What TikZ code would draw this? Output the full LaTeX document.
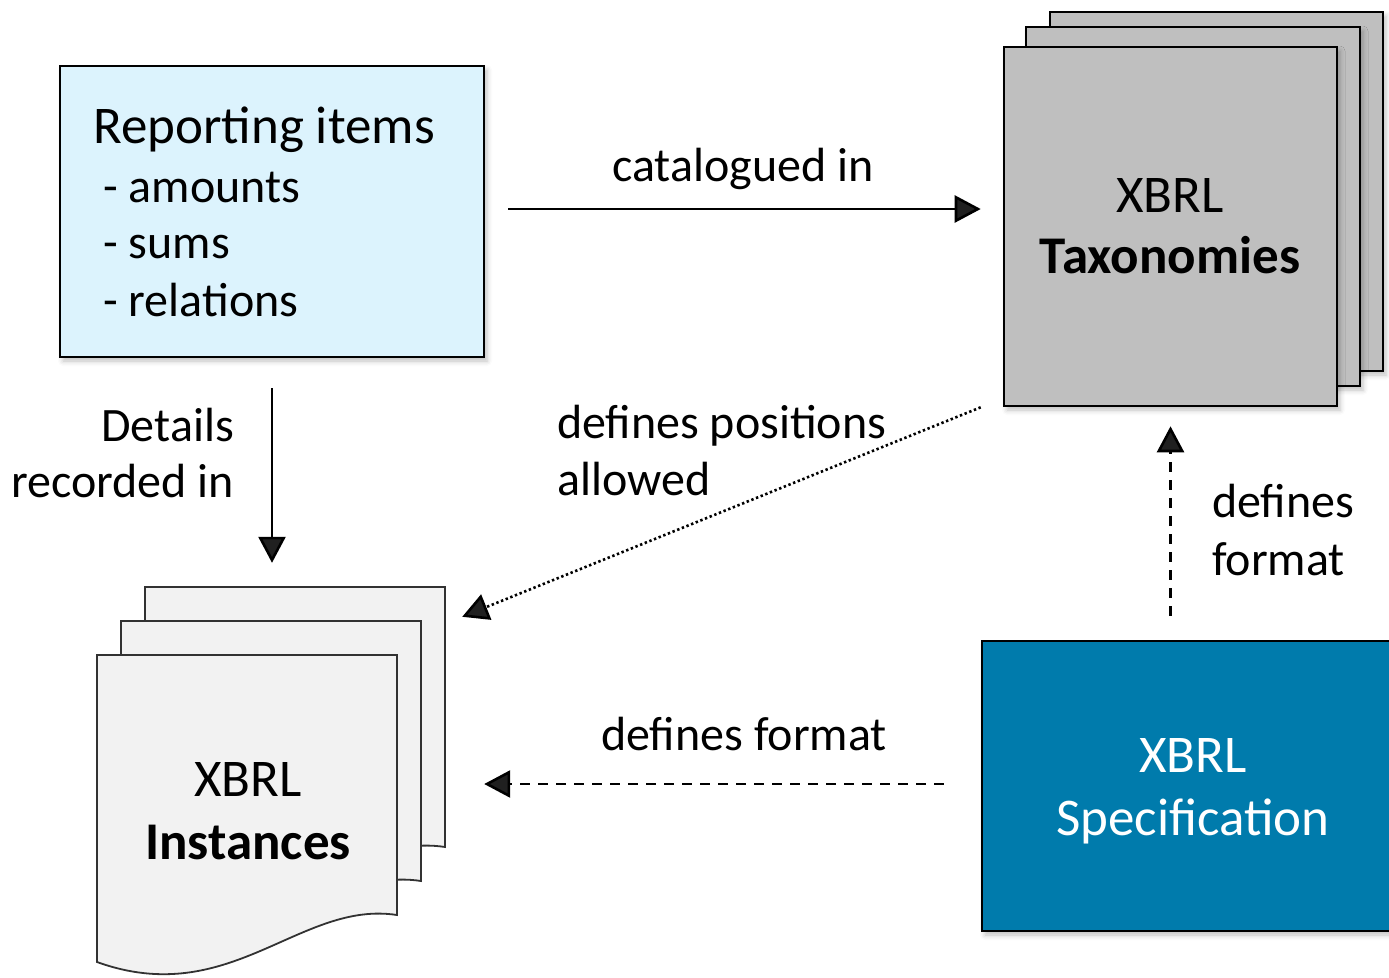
\documentclass[tikz,border=0pt]{standalone}
\usepackage{fontspec}
\setmainfont{Carlito}
\usetikzlibrary{arrows.meta,calc,shadows.blur}
\definecolor{repfill}{RGB}{220,243,253}
\definecolor{taxfill}{RGB}{191,191,191}
\definecolor{instfill}{RGB}{242,242,242}
\definecolor{instline}{RGB}{50,50,50}
\definecolor{specfill}{RGB}{0,123,172}
\tikzset{
  big/.style={font=\fontsize{53}{64}\selectfont, inner sep=0pt},
  lbl/.style={font=\fontsize{48}{58}\selectfont, inner sep=0pt},
  box/.style={draw=black, line width=2.6pt, inner sep=0pt},
  shad/.style={blur shadow={shadow xshift=3pt, shadow yshift=-4pt, shadow blur radius=5pt, shadow opacity=25}},
  docline/.style={draw=instline, line width=1.8pt, fill=instfill},
  arr/.style={line width=2.6pt, -{Triangle[length=26pt,width=27pt]}},
  dotline/.style={dash pattern=on 2.4pt off 2.6pt},
  dashline/.style={dash pattern=on 10pt off 8pt}
}
\begin{document}
\begin{tikzpicture}[x=1pt,y=-1pt]
\useasboundingbox (0,0) rectangle (1389,977);
\clip (0,0) rectangle (1389,977);

% Reporting items box
\node[box, fill=repfill, shad, minimum width=424pt, minimum height=291pt] (rep) at (272,211.5) {};
\node[big, anchor=base west] (rt1) at (93,143) {Reporting items};
\node[lbl, anchor=base west] (rt2) at (103,202) {- amounts};
\node[lbl, anchor=base west] (rt3) at (103,258) {- sums};
\node[lbl, anchor=base west] (rt4) at (103,316) {- relations};

% Taxonomies stack
\draw[box, fill=taxfill, shad] (1050,12) rectangle (1383,371);
\draw[box, fill=taxfill, shad] (1026,27) rectangle (1360,386);
\node[box, fill=taxfill, shad, minimum width=333pt, minimum height=359pt] (tax) at (1170.5,226.5) {};
\node[big, anchor=base] (tx1) at (1170,212) {XBRL};
\node[big, anchor=base] (tx2) at (1170,273) {\bfseries Taxonomies};

% Instances stack
\foreach \s in {2,1,0}{
  \draw[docline, shift={({97+24*\s},{655-34*\s})}]
    (0,0) -- (300,0) -- (300,260) .. controls (203,245) and (133,355) .. (0,307) -- cycle;
}
\node[minimum width=300pt, minimum height=310pt, inner sep=0pt] (inst) at (247,810) {};
\node[big, anchor=base] (ix1) at (248,796) {XBRL};
\node[big, anchor=base] (ix2) at (248,859) {\bfseries Instances};

% Specification box
\node[box, fill=specfill, shad, minimum width=422pt, minimum height=290pt] (spec) at (1193,786) {};
\node[big, anchor=base, text=white] (sx1) at (1193,772) {XBRL};
\node[big, anchor=base, text=white] (sx2) at (1193,835) {Specification};

% Connectors
\draw[arr] ([xshift=23pt,yshift=2.5pt]rep.east) -- ([xshift=-22pt,yshift=17.5pt]tax.west);
\node[lbl, anchor=base] (lcat) at (743,181) {catalogued in};

\draw[arr] ([yshift=-30pt]rep.south) -- ($(rep.south |- inst.north)+(0,-92)$);
\node[lbl, anchor=base east] (ld1) at (234,441) {Details};
\node[lbl, anchor=base east] (ld2) at (234,497) {recorded in};

\draw[arr, dotline] ([xshift=-22pt]tax.south west) -- ($(inst.north east)+(65,-38)$);
\node[lbl, anchor=base west] (lp1) at (557,438) {defines positions};
\node[lbl, anchor=base west] (lp2) at (557,495) {allowed};

\draw[arr, dashline] ($(tax.south |- spec.north)+(0,-24)$) -- ($(tax.south)+(0,19)$);
\node[lbl, anchor=base west] (lf1) at (1212,517) {defines};
\node[lbl, anchor=base west] (lf2) at (1212,575) {format};

\draw[arr, dashline] ($(spec.west)+(-37,-2)$) -- ($(spec.west -| inst.east)+(87,-2)$);
\node[lbl, anchor=base] (lf3) at (744,750) {defines format};
\end{tikzpicture}
\end{document}
